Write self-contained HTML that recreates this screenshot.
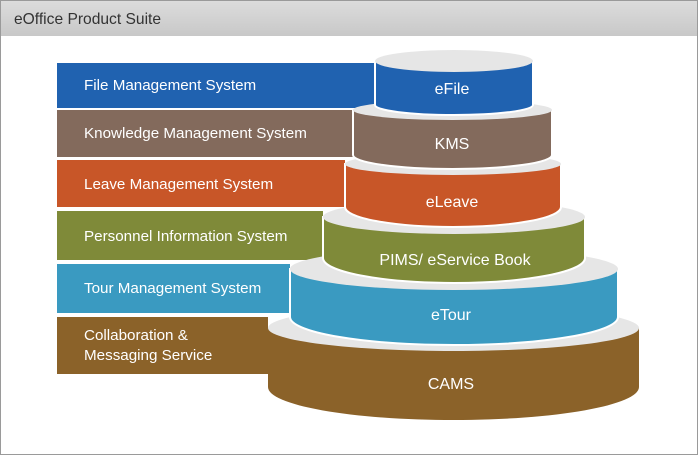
<!DOCTYPE html>
<html><head><meta charset="utf-8"><style>
html,body{margin:0;padding:0;background:#fff;}
svg{display:block;font-family:"Liberation Sans",sans-serif;}
</style></head><body>
<svg width="698" height="455" viewBox="0 0 698 455" xmlns="http://www.w3.org/2000/svg">
<defs><linearGradient id="tb" x1="0" y1="0" x2="0" y2="1"><stop offset="0" stop-color="#dcdcdc"/><stop offset="1" stop-color="#c8c8c8"/></linearGradient></defs>
<rect x="0.5" y="0.5" width="697" height="454" fill="#fff" stroke="#9a9a9a"/>
<rect x="1" y="1" width="696" height="35" fill="url(#tb)"/>
<text x="14" y="24" font-size="15.6" fill="#333">eOffice Product Suite</text>

<g font-size="15.2" fill="#fff">
<rect x="57" y="63" width="318" height="45" fill="#2062b0"/>
<text x="84" y="90">File Management System</text>
<rect x="57" y="110" width="296" height="47" fill="#836a5c"/>
<text x="84" y="138">Knowledge Management System</text>
<rect x="57" y="160" width="288" height="47" fill="#c85628"/>
<text x="84" y="189">Leave Management System</text>
<rect x="57" y="211" width="266" height="49" fill="#7f8a39"/>
<text x="84" y="241">Personnel Information System</text>
<rect x="57" y="264" width="233" height="49" fill="#3a9ac1"/>
<text x="84" y="293">Tour  Management System</text>
<rect x="57" y="317" width="211" height="57" fill="#8b6229"/>
<text x="84" y="340">Collaboration &amp;</text>
<text x="84" y="360">Messaging Service</text>
</g>

<g stroke="#fff" stroke-width="2">
<path d="M268,328 L268,387 A185.5,33 0 0 0 639,387 L639,328 Z" fill="#8b6229" stroke="none"/>
<ellipse cx="453.5" cy="328" rx="185.5" ry="23" fill="#e6e6e6" stroke="none"/>
<path d="M290,269 L290,317 A164,28 0 0 0 618,317 L618,269 Z" fill="#3a9ac1"/>
<ellipse cx="454" cy="269" rx="164" ry="21" fill="#e6e6e6" stroke="none"/>
<path d="M323,217 L323,258 A131,25 0 0 0 585,258 L585,217 Z" fill="#7f8a39"/>
<ellipse cx="454" cy="217" rx="131" ry="17" fill="#e6e6e6" stroke="none"/>
<path d="M345,164 L345,207 A108,20 0 0 0 561,207 L561,164 Z" fill="#c85628"/>
<ellipse cx="453" cy="164" rx="108" ry="11" fill="#e6e6e6" stroke="none"/>
<path d="M353,110 L353,155 A99.5,14 0 0 0 552,155 L552,110 Z" fill="#836a5c"/>
<ellipse cx="452.5" cy="110" rx="99.5" ry="10" fill="#e6e6e6" stroke="none"/>
<path d="M375,61 L375,105 A79,10 0 0 0 533,105 L533,61 Z" fill="#2062b0"/>
<ellipse cx="454" cy="61" rx="79" ry="11" fill="#e6e6e6" stroke="none"/>
</g>
<g font-size="16" fill="#fff" text-anchor="middle">
<text x="452" y="94">eFile</text>
<text x="452" y="149">KMS</text>
<text x="452" y="207">eLeave</text>
<text x="455" y="265">PIMS/ eService Book</text>
<text x="451" y="320">eTour</text>
<text x="451" y="389">CAMS</text>
</g>
</svg>
</body></html>
